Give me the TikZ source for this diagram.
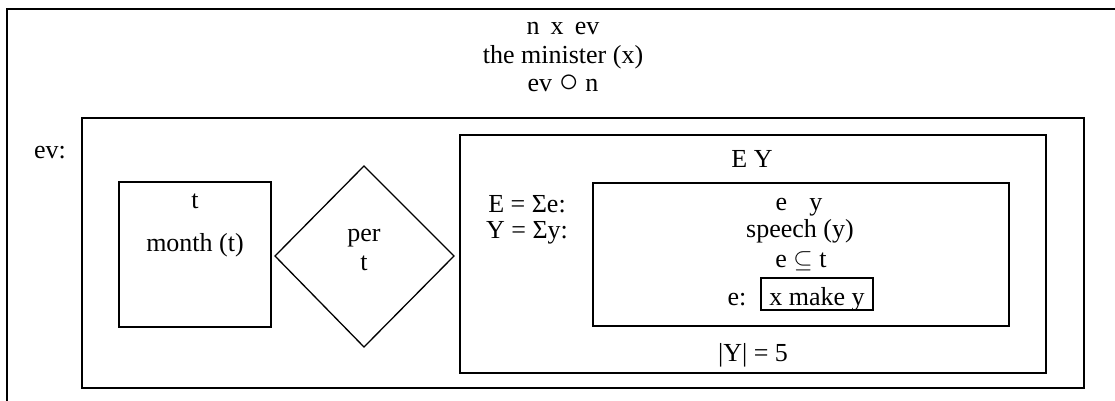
\documentclass[tikz,border=0pt]{standalone}
\usepackage{fontspec}
\setmainfont{Liberation Serif}
\usetikzlibrary{positioning}

\tikzset{
    boxline/.style={line width=2pt},
    thinline/.style={line width=1.3pt},
    lbl/.style={anchor=base, inner sep=0pt},
}

\begin{document}
\begin{tikzpicture}[x=1pt, y=-1pt, font=\fontsize{26}{30}\selectfont]
    \useasboundingbox (0,0) rectangle (1115,401);

    % Outer box, cut off at right and bottom
    \begin{scope}
        \clip (0,0) rectangle (1115,401);
        \draw[boxline] (7,9) rectangle (1130,420);
    \end{scope}

    % Header conditions
    \node[lbl] (refs) at (563,35) {n\hspace{0.43em}x\hspace{0.43em}ev};
    \node[lbl] (minister) at (563,64) {the minister (x)};
    \node[lbl] (overlap) at (563,92) {ev \smash{\raisebox{-0.5pt}{\scalebox{1.3}{○}}} n};

    % ev box
    \node[lbl] (evlabel) at (50,158) {ev:};
    \draw[boxline] (82,118) rectangle (1084,388);

    % month box
    \draw[boxline] (119,182) rectangle (271,327);
    \node[lbl] (tref) at (195,208) {t};
    \node[lbl] (month) at (195,251) {month (t)};

    % per diamond
    \draw[thinline] (275,256) -- (364,166) -- (454,256) -- (364,347) -- cycle;
    \node[lbl] (per) at (364,241) {per};
    \node[lbl] (pert) at (364,270) {t};

    % EY box
    \draw[boxline] (460,135) rectangle (1046,373);
    \node[lbl] (EY) at (752,167) {E Y};
    \node[lbl] (sumE) at (527,212) {E = Σe:};
    \node[lbl] (sumY) at (527,238) {Y = Σy:};
    \node[lbl] (card) at (753,361) {|Y| = 5};

    % inner box
    \draw[boxline] (593,183) rectangle (1009,326);
    \node[lbl] (ey) at (799,210) {e\hspace{0.85em}y};
    \node[lbl] (speech) at (800,237) {speech (y)};
    \node[lbl] (incl) at (801,267) {e $\subseteq$ t};
    \node[lbl, draw, line width=2pt, minimum width=112pt, text height=27pt, text depth=5pt]
        (make) at (817,305) {x make y};
    \node[lbl] (elabel) at (737,305) {e:};
\end{tikzpicture}
\end{document}
